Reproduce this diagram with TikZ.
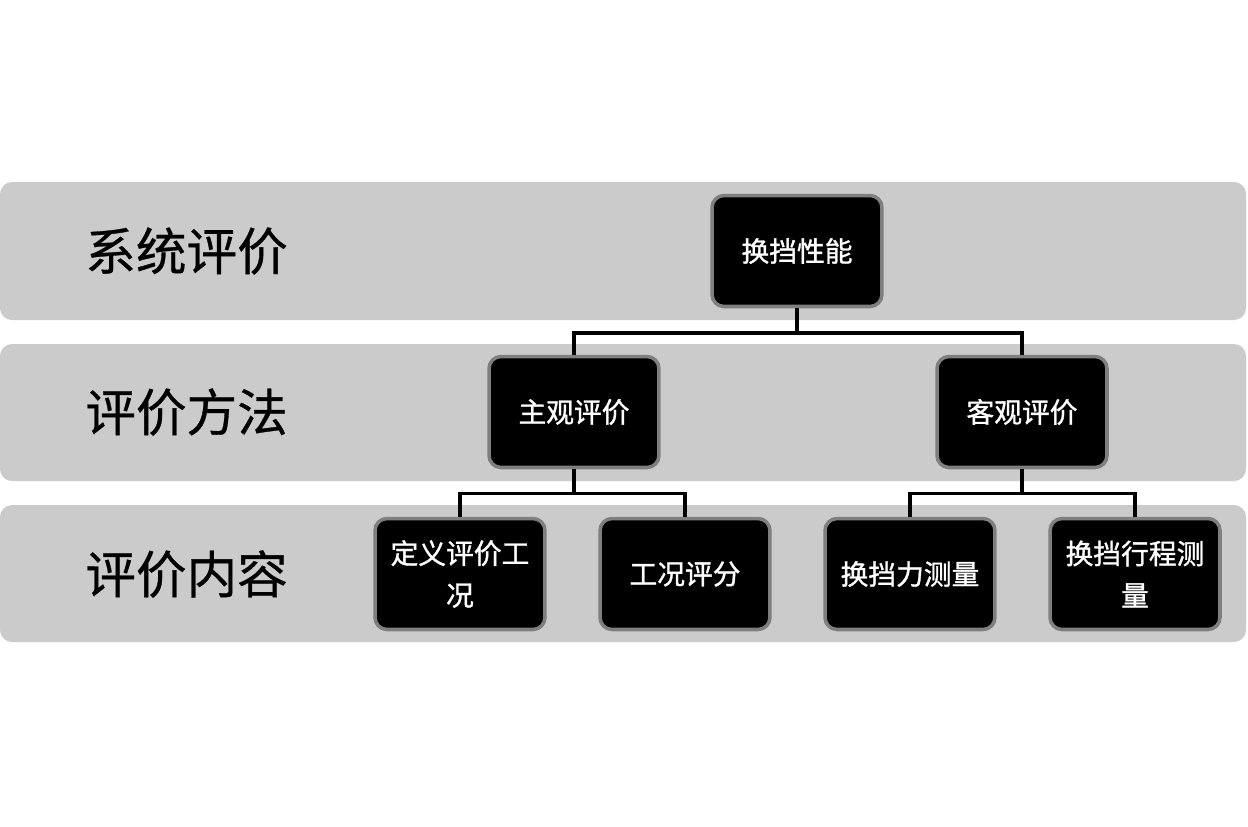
\documentclass[tikz,border=0pt]{standalone}
\usepackage{fontspec}
\setmainfont{Noto Sans CJK SC}
\newfontfamily\labelfont[FakeBold=0.6]{Noto Sans CJK SC}
\newfontfamily\boxfont[FakeBold=1.2]{Noto Sans CJK SC}
\usetikzlibrary{positioning}
\definecolor{bandgray}{HTML}{CBCBCB}
\definecolor{boxborder}{HTML}{7F7F7F}

\begin{document}
\begin{tikzpicture}[x=0.02cm, y=-0.02cm, every node/.style={align=center},
    band/.style={fill=bandgray, rounded corners=0.24cm},
    level/.style={anchor=west, inner sep=0pt, font=\labelfont\fontsize{28.8}{34}\selectfont},
    box/.style={draw=boxborder, line width=2pt, fill=black, text=white, rounded corners=0.24cm,
        minimum width=3.4cm, minimum height=2.22cm, inner sep=0pt, font=\boxfont\fontsize{15.8}{23.8}\selectfont},
    link/.style={line width=2pt}]
        \useasboundingbox (0,0) rectangle (1248,826);
        % bands
        \fill[band] (0,182) rectangle (1246,320);
        \fill[band] (0,344) rectangle (1246,481);
        \fill[band] (0,505) rectangle (1246,642);
        \node (sys) [level] at (85,251) {系统评价};
        \node (method) [level] at (85,412) {评价方法};
        \node (content) [level] at (85,574) {评价内容};

        % tree
        \node (shift) [box] at (797,251) {换挡性能};
        \node (subj) [box] at (574,412) {主观评价};
        \node (obj) [box] at (1022,412) {客观评价};
        \node (cond) [box] at (460,574) {定义评价工\\况};
        \node (score) [box] at (685,574) {工况评分};
        \node (force) [box] at (910,574) {换挡力测量};
        \node (travel) [box] at (1135,574) {换挡行程测\\量};

        \draw[link] (shift.south) -- ++(0,25) -| (subj.north);
        \draw[link] (shift.south) -- ++(0,25) -| (obj.north);
        \draw[link] (subj.south) -- ++(0,24) -| (cond.north);
        \draw[link] (subj.south) -- ++(0,24) -| (score.north);
        \draw[link] (obj.south) -- ++(0,24) -| (force.north);
        \draw[link] (obj.south) -- ++(0,24) -| (travel.north);
    \end{tikzpicture}
\end{document}
